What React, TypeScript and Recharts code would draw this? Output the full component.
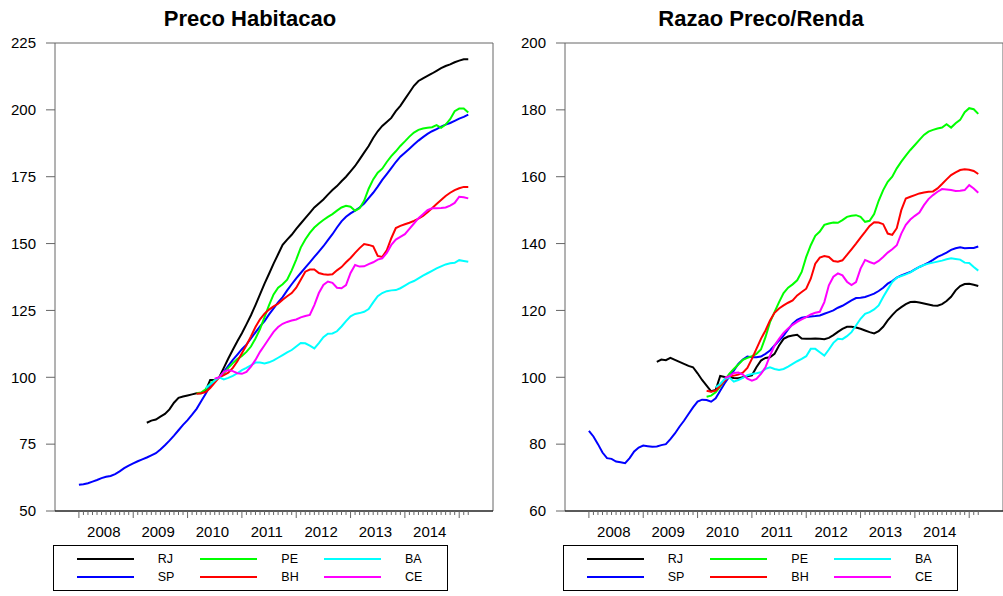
import { LineChart, Line, XAxis, YAxis, ReferenceArea, Legend } from 'recharts';

// regions in legend / drawing order
const regions = ['RJ', 'SP', 'PE', 'BH', 'BA', 'CE'];
const regionColors = ['#000000', '#0000ff', '#00ff00', '#ff0000', '#00ffff', '#ff00ff'];
// month index (0 = Jan 2008) where each series begins
const firstMonth = [15, 0, 26, 26, 28, 30];
const firstYear = 2008;
const monthCount = 87;
const yearLabels = [2008, 2009, 2010, 2011, 2012, 2013, 2014];

const precoTicks = [50, 75, 100, 125, 150, 175, 200, 225];
const razaoTicks = [60, 80, 100, 120, 140, 160, 180, 200];

// Preco Habitacao
const precoRJ = [
    83.0, 83.8, 84.2, 85.3, 86.3,
    88.0, 90.5, 92.3, 92.8, 93.2, 93.6, 94.0, 94.0, 95.0, 99.0,
    99.0, 100.0, 103.5, 107.0, 110.3, 113.5, 116.5, 119.8, 123.2, 127.0,
    131.0, 135.0, 138.7, 142.5, 146.0, 149.5, 151.5, 153.3, 155.5, 157.5,
    159.5, 161.5, 163.5, 165.0, 166.5, 168.3, 170.0, 171.5, 173.3, 175.0,
    177.0, 179.0, 181.5, 184.0, 186.5, 189.5, 192.0, 194.0, 195.5, 197.0,
    199.5, 201.5, 204.0, 206.5, 209.0, 210.8, 211.8, 212.7, 213.6, 214.6,
    215.6, 216.4, 217.0, 217.8, 218.4, 218.9, 218.9
];
const precoSP = [
    59.8, 60.0, 60.4, 61.0, 61.6, 62.3, 62.8, 63.1, 63.8, 64.8,
    66.0, 67.0, 67.8, 68.6, 69.3, 70.0, 70.8, 71.6, 73.0, 74.6,
    76.3, 78.2, 80.2, 82.2, 84.0, 86.0, 88.2, 91.0, 93.8, 96.8,
    99.0, 100.0, 102.0, 104.3, 106.5, 108.5, 110.5, 112.2, 114.5, 116.8,
    119.0, 121.0, 123.5, 125.8, 128.0, 130.0, 132.5, 134.8, 137.0, 139.0,
    141.0, 143.0, 145.0, 147.0, 149.0, 151.3, 153.5, 156.0, 158.3, 160.0,
    161.3, 162.3, 163.5, 165.0, 167.0, 169.0, 171.3, 173.8, 176.0, 178.2,
    180.5, 182.5, 184.0, 185.5, 187.0, 188.5, 189.8, 191.0, 192.0, 192.8,
    193.7, 194.5, 195.1, 195.9, 196.7, 197.4, 198.2
];
const precoPE = [
    94.0, 94.3, 95.5, 97.5,
    99.0, 100.0, 101.5, 103.5, 105.3, 106.8, 108.0, 109.5, 111.5, 114.5,
    118.0, 122.5, 127.0, 131.0, 133.5, 134.8, 136.5, 140.0, 144.0, 148.5,
    151.5, 154.0, 156.0, 157.5, 158.8, 160.0, 161.0, 162.3, 163.5, 164.1,
    163.8, 162.3, 163.2, 166.0, 170.5, 174.0, 176.5, 178.0, 180.5, 182.7,
    184.5, 186.5, 188.2, 190.0, 191.5, 192.5, 193.0, 193.3, 193.5, 194.3,
    193.3, 194.5, 196.5, 199.5, 200.5, 200.5, 199.0
];
const precoBH = [
    93.8, 94.0, 94.5, 96.0,
    98.0, 100.0, 100.8, 101.7, 103.5, 106.0, 109.0, 112.0, 115.3, 118.8,
    121.7, 123.8, 125.3, 126.5, 127.5, 129.0, 130.3, 131.5, 133.5, 136.5,
    139.5, 140.3, 140.3, 139.0, 138.5, 138.3, 138.5, 140.0, 141.2, 143.0,
    144.6, 146.5, 148.3, 149.8, 149.5, 149.0, 145.4, 145.0, 147.5, 152.0,
    155.8, 156.6, 157.2, 157.8, 158.5, 159.3, 160.3, 161.7, 163.2, 164.8,
    166.3, 167.8, 169.0, 170.0, 170.7, 171.2, 171.2
];
const precoBA = [
    96.0, 97.3,
    98.8, 100.0, 99.2, 99.8, 100.5, 101.5, 102.7, 103.5, 104.5, 105.5,
    105.5, 105.2, 105.6, 106.3, 107.3, 108.3, 109.3, 110.2, 111.5, 112.8,
    112.7, 111.8, 110.8, 112.8, 115.0, 116.3, 116.4, 117.2, 119.0, 121.0,
    122.8, 123.7, 124.0, 124.5, 125.5, 128.0, 130.3, 131.5, 132.2, 132.5,
    132.6, 133.3, 134.3, 135.3, 136.0, 137.0, 138.0, 138.9, 139.8, 140.7,
    141.5, 142.2, 142.6, 142.8, 143.8, 143.5, 143.2
];
const precoCE = [
    99.5, 100.0, 102.0, 102.7, 102.3, 101.5, 101.3, 102.0, 104.0, 106.5,
    109.5, 112.0, 114.5, 117.0, 118.8, 120.0, 120.7, 121.2, 121.6, 122.4,
    122.9, 123.3, 127.0, 131.5, 134.5, 135.8, 135.3, 133.5, 133.3, 134.5,
    139.0, 142.0, 141.4, 141.5, 142.3, 143.0, 144.0, 144.5, 146.5, 149.5,
    151.5, 152.5, 153.5, 155.5, 157.5, 159.5, 161.0, 162.5, 163.2, 163.2,
    163.3, 163.5, 164.2, 165.2, 167.5, 167.3, 166.9
];

// Razao Preco/Renda
const razaoRJ = [
    104.6, 105.3, 105.1, 105.8, 105.2,
    104.6, 104.0, 103.4, 103.0, 101.2, 99.2, 97.5, 95.8, 96.2, 100.4,
    100.1, 100.0, 99.8, 99.7, 100.0, 100.3, 100.6, 103.0, 105.0, 105.8,
    106.0, 107.0, 109.5, 111.5, 112.2, 112.5, 112.7, 111.6, 111.5, 111.5,
    111.6, 111.5, 111.4, 111.8, 112.6, 113.6, 114.5, 115.1, 115.1, 114.9,
    114.5, 114.0, 113.5, 113.1, 113.8, 115.1, 117.0, 118.6, 120.0, 121.0,
    121.9, 122.5, 122.6, 122.4, 122.1, 121.8, 121.5, 121.4, 121.9, 122.8,
    124.1, 126.0, 127.3, 127.9, 128.0, 127.7, 127.3
];
const razaoSP = [
    84.0, 82.3, 80.0, 77.5, 75.8, 75.6, 74.8, 74.6, 74.3, 75.8,
    77.8, 79.0, 79.6, 79.4, 79.2, 79.3, 79.7, 80.0, 81.5, 83.2,
    85.2, 87.0, 89.0, 91.0, 92.7, 93.3, 93.2, 92.7, 93.7, 96.0,
    98.2, 100.2, 102.0, 104.0, 105.3, 106.2, 106.0, 106.0, 106.2, 107.0,
    108.0, 109.5, 111.0, 112.5, 114.3, 116.0, 117.2, 117.8, 118.0, 118.2,
    118.3, 118.5, 119.0, 119.5, 120.0, 120.8, 121.4, 122.2, 123.0, 123.7,
    123.8, 124.0, 124.5, 125.0, 125.8, 126.8, 128.0, 128.8, 129.8, 130.5,
    131.0, 131.5, 132.3, 133.0, 133.6, 134.3, 135.1, 136.0, 136.6, 137.3,
    138.1, 138.6, 138.9, 138.6, 138.7, 138.7, 139.1
];
const razaoPE = [
    94.2, 94.5, 95.5, 97.2,
    99.2, 101.0, 102.5, 103.8, 105.2, 105.8, 106.3, 107.0, 108.3, 112.0,
    116.5, 119.5, 122.5, 125.2, 126.8, 127.8, 129.0, 131.5, 136.0, 139.5,
    142.3, 143.6, 145.6, 146.0, 146.3, 146.2, 147.0, 148.0, 148.3, 148.5,
    148.0, 146.5, 146.8, 148.8, 152.8, 156.0, 158.5, 160.0, 162.5, 164.5,
    166.3, 168.0, 169.5, 171.0, 172.5, 173.5, 174.0, 174.4, 174.7, 175.7,
    174.7, 176.0, 177.0, 179.3, 180.5, 180.2, 178.8
];
const razaoBH = [
    96.0, 95.7, 96.0, 97.5,
    99.0, 100.2, 100.5, 100.8, 101.4, 102.8, 105.5, 108.5, 111.5, 114.0,
    117.0, 119.3, 120.6, 121.5, 122.3, 123.0, 124.5, 125.5, 126.5, 129.5,
    134.0, 135.8, 136.3, 136.0, 134.8, 134.6, 135.0, 136.6, 138.3, 140.0,
    141.8, 143.5, 145.3, 146.4, 146.3, 145.8, 143.0, 142.6, 144.6, 150.0,
    153.5, 154.0, 154.5, 155.0, 155.3, 155.5, 155.6, 156.5, 157.8, 159.2,
    160.5, 161.3, 162.0, 162.2, 162.1, 161.7, 160.8
];
const razaoBA = [
    97.0, 98.0,
    99.5, 100.0, 98.7, 99.2, 99.8, 100.6, 101.0, 101.2, 101.5, 102.5,
    103.0, 102.5, 102.2, 102.5, 103.2, 104.0, 104.8, 105.5, 106.3, 108.5,
    108.5, 107.5, 106.5, 108.3, 110.3, 111.5, 111.4, 112.3, 113.5, 115.5,
    117.5, 119.0, 119.5, 120.3, 121.5, 124.0, 126.3, 128.5, 129.8, 130.3,
    130.8, 131.4, 132.2, 133.0, 133.6, 134.0, 134.3, 134.6, 134.9, 135.3,
    135.6, 135.4, 135.2, 134.3, 134.2, 133.0, 131.9
];
const razaoCE = [
    99.8, 100.3, 101.3, 101.4, 100.8, 99.6, 99.0, 99.5, 101.0, 103.0,
    106.5, 109.5, 111.5, 113.3, 114.6, 115.7, 116.6, 117.3, 118.0, 118.8,
    119.3, 119.6, 122.5, 127.5, 130.1, 131.1, 130.5, 128.6, 127.6, 128.5,
    132.5, 135.1, 134.5, 134.0, 134.8, 136.0, 137.3, 138.3, 139.5, 143.0,
    145.6, 147.2, 148.3, 149.3, 151.5, 153.3, 154.5, 155.5, 156.3, 156.2,
    156.0, 155.7, 155.8, 156.0, 157.5, 156.5, 155.2
];

const FONT = '"Liberation Sans", Arial, Helvetica, sans-serif';
const X_DOMAIN: [number, number] = [2007.56, 2015.622];

// one row per month, with null before a series starts
function buildRows(series: number[][]) {
    return Array.from({ length: monthCount }, (_, i) => {
        const row: Record<string, number | null> = { t: firstYear + i / 12 };
        regions.forEach((name, s) => {
            const k = i - firstMonth[s];
            row[name] = k >= 0 && k < series[s].length ? series[s][k] : null;
        });
        return row;
    });
}

// monthly tick marks plus year labels centred on each year
const monthTicks = Array.from({ length: monthCount }, (_, i) => firstYear + i / 12);
const labelTicks = yearLabels.map((y) => y + 5.5 / 12);
const xTicks = [...monthTicks, ...labelTicks].sort((a, b) => a - b);

const MonthTick = (props: any) => {
    const { x, y, payload } = props;
    const k = (payload.value - firstYear) * 12;
    if (Math.abs(k - Math.round(k)) > 0.25) {
        return (
            <text x={x} y={y + 26} textAnchor="middle" fontSize={15} fill="#000">
                {Math.floor(payload.value)}
            </text>
        );
    }
    const major = Math.round(k) % 12 === 0;
    return <line x1={x} x2={x} y1={y} y2={y + (major ? 7 : 4)} stroke="#666" />;
};

const LegendBox = (props: any) => {
    const payload = props.payload || [];
    const items = regions.map((name) => payload.find((p: any) => p.value === name)).filter(Boolean);
    return (
        <div
            style={{
                position: 'relative',
                width: 395,
                height: 46,
                border: '1px solid #000',
                boxSizing: 'border-box',
                fontFamily: FONT,
                fontSize: 12.5,
                color: '#000'
            }}
        >
            {items.map((entry: any, idx: number) => {
                const left = 22.7 + Math.floor(idx / 2) * 123.6;
                const mid = 13.3 + (idx % 2) * 17.7;
                return (
                    <div key={entry.value}>
                        <div
                            style={{
                                position: 'absolute',
                                left,
                                top: mid - 1,
                                width: 57,
                                height: 2,
                                background: entry.color
                            }}
                        />
                        <span style={{ position: 'absolute', left: left + 81, top: mid - 8, lineHeight: '16px' }}>
                            {entry.value}
                        </span>
                    </div>
                );
            })}
        </div>
    );
};

type PanelProps = {
    left: number;
    titleLeft: number;
    title: string;
    series: number[][];
    yDomain: [number, number];
    yTicks: number[];
};

function Panel({ left, titleLeft, title, series, yDomain, yTicks }: PanelProps) {
    const rows = buildRows(series);
    return (
        <>
            <div
                style={{
                    position: 'absolute',
                    left: titleLeft,
                    top: 6,
                    width: 500,
                    textAlign: 'center',
                    fontFamily: FONT,
                    fontWeight: 'bold',
                    fontSize: 22,
                    color: '#000'
                }}
            >
                {title}
            </div>
            <div style={{ position: 'absolute', left, top: 0 }}>
                <LineChart width={500} height={596} data={rows} margin={{ top: 43, right: 7, bottom: 55, left: 0 }}>
                    <XAxis
                        type="number"
                        dataKey="t"
                        domain={X_DOMAIN}
                        allowDataOverflow
                        ticks={xTicks}
                        interval={0}
                        tick={<MonthTick />}
                        tickLine={false}
                        tickSize={0}
                        tickMargin={0}
                        axisLine={{ stroke: '#000' }}
                        height={30}
                    />
                    <YAxis
                        type="number"
                        domain={yDomain}
                        allowDataOverflow
                        ticks={yTicks}
                        interval={0}
                        width={55}
                        tickSize={9}
                        tickMargin={10}
                        axisLine={false}
                        tickLine={{ stroke: '#666' }}
                        tick={{ fontSize: 15, fill: '#000' }}
                    />
                    <ReferenceArea
                        x1={X_DOMAIN[0]}
                        x2={X_DOMAIN[1]}
                        y1={yDomain[0]}
                        y2={yDomain[1]}
                        fill="none"
                        fillOpacity={0}
                        stroke="#666"
                        strokeWidth={1}
                        ifOverflow="visible"
                    />
                    <Legend
                        layout="horizontal"
                        verticalAlign="middle"
                        align="center"
                        content={<LegendBox />}
                        wrapperStyle={{ left: 53, top: 545, width: 395, height: 46 }}
                    />
                    {regions.map((name, s) => (
                        <Line
                            key={name}
                            name={name}
                            dataKey={name}
                            type="linear"
                            stroke={regionColors[s]}
                            strokeWidth={2}
                            dot={false}
                            activeDot={false}
                            isAnimationActive={false}
                        />
                    ))}
                </LineChart>
            </div>
        </>
    );
}

export default function App() {
    return (
        <div
            style={{
                position: 'absolute',
                left: 0,
                top: 0,
                width: 1003,
                height: 596,
                overflow: 'hidden',
                background: '#fff',
                fontFamily: FONT
            }}
        >
            <Panel
                left={0}
                titleLeft={0}
                title="Preco Habitacao"
                series={[precoRJ, precoSP, precoPE, precoBH, precoBA, precoCE]}
                yDomain={[50, 225]}
                yTicks={precoTicks}
            />
            <Panel
                left={510}
                titleLeft={511}
                title="Razao Preco/Renda"
                series={[razaoRJ, razaoSP, razaoPE, razaoBH, razaoBA, razaoCE]}
                yDomain={[60, 200]}
                yTicks={razaoTicks}
            />
        </div>
    );
}
